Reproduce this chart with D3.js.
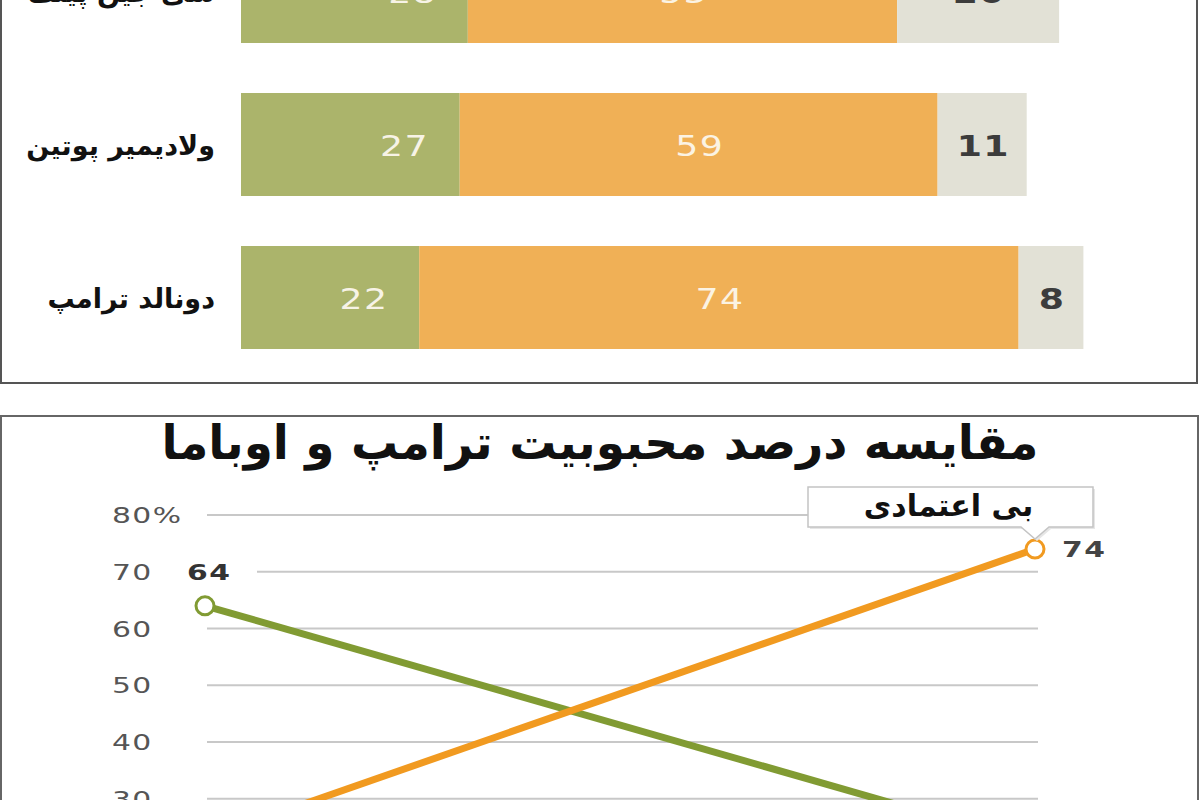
<!DOCTYPE html>
<html>
<head>
<meta charset="utf-8">
<script src="https://cdn.jsdelivr.net/npm/d3@7"></script>
<style>
  html, body { margin: 0; padding: 0; background: #fff; }
  svg { display: block; }
</style>
</head>
<body>
<svg id="chart" width="1200" height="800"></svg>
<script>
// ---------- Data (top: stacked bars) ----------
const leaders = ["شی جین پینگ", "ولادیمیر پوتین", "دونالد ترامپ"];
const confidence = [28, 27, 22];
const noConfidence = [53, 59, 74];
const dontKnow = [20, 11, 8];

// ---------- Data (bottom: line chart) ----------
const presidents = ["اوباما", "ترامپ"];
const trustSeries = [64, 22];
const distrustSeries = [23, 74];
const yTicks = [0, 10, 20, 30, 40, 50, 60, 70, 80];
const chartTitle = "مقایسه درصد محبوبیت ترامپ و اوباما";
const calloutText = "بی اعتمادی";

const svg = d3.select("#chart");
const FONT = "'DejaVu Sans', sans-serif";
const STRETCH = 1.42;

// ================= Top panel =================
const topG = svg.append("g");
const rows = leaders.map((name, i) => ({
  name, c: confidence[i], n: noConfidence[i], d: dontKnow[i]
}));
const keys = ["c", "n", "d"];
const colors = { c: "#abb46b", n: "#f0b056", d: "#e2e1d6" };
const labelColors = { c: "#f7f3e6", n: "#fbf3e3", d: "#3c3c3c" };

const xBar = d3.scaleLinear().domain([0, 100]).range([241, 1051]);
const yBand = d3.scaleBand().domain(leaders).range([-85, 374])
  .paddingInner(0.327).paddingOuter(0.1635);

const stacked = d3.stack().keys(keys)(rows);

stacked.forEach(layer => {
  const key = layer.key;
  topG.append("g").selectAll("rect").data(layer).join("rect")
    .attr("x", d => xBar(d[0]))
    .attr("y", d => yBand(d.data.name))
    .attr("width", d => xBar(d[1]) - xBar(d[0]))
    .attr("height", yBand.bandwidth())
    .attr("fill", colors[key]);

  topG.append("g").selectAll("text").data(layer).join("text")
    .attr("transform", d => {
      const x = key === "c" ? xBar(d[1]) - 31 : (xBar(d[0]) + xBar(d[1])) / 2 + 1;
      const y = yBand(d.data.name) + yBand.bandwidth() / 2 + 11;
      return `translate(${x},${y}) scale(1.25,1)`;
    })
    .attr("text-anchor", key === "c" ? "end" : "middle")
    .attr("font-family", FONT)
    .attr("font-size", 29)
    .attr("letter-spacing", 1)
    .attr("font-weight", key === "d" ? "bold" : "normal")
    .attr("fill", labelColors[key])
    .text(d => d.data[key]);
});

topG.append("g").selectAll("text").data(leaders).join("text")
  .attr("x", 215)
  .attr("y", d => yBand(d) + yBand.bandwidth() / 2 + 10)
  .attr("text-anchor", "end")
  .attr("font-family", FONT)
  .attr("font-weight", "bold")
  .attr("font-size", 27)
  .attr("fill", "#111")
  .text(d => d);

// top panel border (left, bottom, right)
topG.append("path")
  .attr("d", "M1,0 V383 H1197 V0")
  .attr("fill", "none")
  .attr("stroke", "#555")
  .attr("stroke-width", 2);

// ================= Bottom panel =================
const bot = svg.append("g");
bot.append("path")
  .attr("d", "M1,800 V416 H1198 V800")
  .attr("fill", "none")
  .attr("stroke", "#666")
  .attr("stroke-width", 2);

bot.append("text")
  .attr("x", 600).attr("y", 459)
  .attr("text-anchor", "middle")
  .attr("font-family", FONT)
  .attr("font-weight", "bold")
  .attr("font-size", 47)
  .attr("fill", "#111")
  .text(chartTitle);

const xPt = d3.scalePoint().domain(presidents).range([205, 1035]);
const yLin = d3.scaleLinear().domain([0, 80]).range([969, 515]);

// grid
bot.append("g").selectAll("line").data(yTicks).join("line")
  .attr("x1", 207).attr("x2", 1038)
  .attr("y1", d => yLin(d)).attr("y2", d => yLin(d))
  .attr("stroke", "#c8c8c8").attr("stroke-width", 2);

// y tick labels
bot.append("g").selectAll("text").data(yTicks).join("text")
  .attr("transform", d => `translate(112,${yLin(d) + 8}) scale(${STRETCH},1)`)
  .attr("font-family", FONT)
  .attr("font-size", 21)
  .attr("letter-spacing", 1)
  .attr("fill", "#555")
  .text(d => d === 80 ? d + "%" : d);

const line = d3.line().x((d, i) => xPt(presidents[i])).y(d => yLin(d));

bot.append("path").datum(trustSeries)
  .attr("d", line).attr("fill", "none")
  .attr("stroke", "#819b33").attr("stroke-width", 7);
bot.append("path").datum(distrustSeries)
  .attr("d", line).attr("fill", "none")
  .attr("stroke", "#f19a20").attr("stroke-width", 7);

// markers (start of trust, end of distrust)
bot.append("circle")
  .attr("cx", xPt(presidents[0])).attr("cy", yLin(trustSeries[0]))
  .attr("r", 9).attr("fill", "#fff")
  .attr("stroke", "#819b33").attr("stroke-width", 3);
bot.append("circle")
  .attr("cx", xPt(presidents[1])).attr("cy", yLin(distrustSeries[1]))
  .attr("r", 9).attr("fill", "#fff")
  .attr("stroke", "#f19a20").attr("stroke-width", 3);

// "64" label with white background
const lx = xPt(presidents[0]);
bot.append("rect")
  .attr("x", lx - 20).attr("y", yLin(70) - 12)
  .attr("width", 72).attr("height", 24).attr("fill", "#fff");
bot.append("text")
  .attr("transform", `translate(${lx - 18},${yLin(70) + 8}) scale(${STRETCH},1)`)
  .attr("font-family", FONT).attr("font-size", 21)
  .attr("font-weight", "bold").attr("letter-spacing", 1)
  .attr("fill", "#333")
  .text(trustSeries[0]);

// "74" label
const rx = xPt(presidents[1]);
bot.append("text")
  .attr("transform", `translate(${rx + 27},${yLin(distrustSeries[1]) + 8}) scale(${STRETCH},1)`)
  .attr("font-family", FONT).attr("font-size", 21)
  .attr("font-weight", "bold").attr("letter-spacing", 1)
  .attr("fill", "#444")
  .text(distrustSeries[1]);

// callout box
const cy = yLin(distrustSeries[1]);
const bx0 = 808, bx1 = 1093, by0 = 487, by1 = 527;
const calloutPath = `M${bx0},${by0} H${bx1} V${by1} H${rx + 14} L${rx},${cy - 10} L${rx - 14},${by1} H${bx0} Z`;
bot.append("path")
  .attr("d", calloutPath)
  .attr("transform", "translate(2,2)")
  .attr("fill", "#e6e6e6");
bot.append("path")
  .attr("d", calloutPath)
  .attr("fill", "#fff")
  .attr("stroke", "#c4c4c4").attr("stroke-width", 1.5);
bot.append("text")
  .attr("x", (bx0 + bx1) / 2 - 2).attr("y", 516)
  .attr("text-anchor", "middle")
  .attr("font-family", FONT).attr("font-weight", "bold")
  .attr("font-size", 30).attr("fill", "#111")
  .text(calloutText);
</script>
</body>
</html>
